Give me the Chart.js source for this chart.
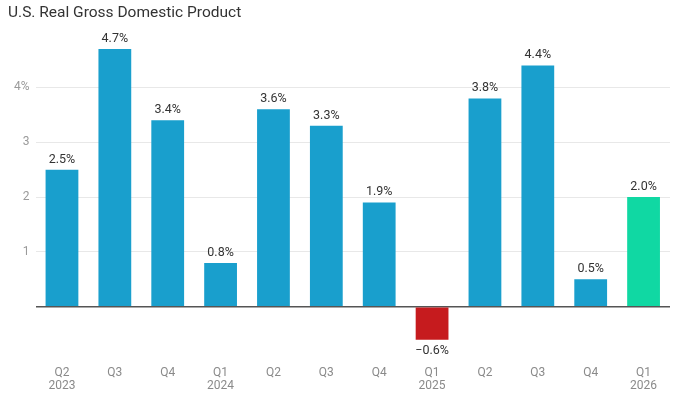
<!DOCTYPE html>
<html>
<head>
<meta charset="utf-8">
<script src="https://cdn.jsdelivr.net/npm/chart.js@4.4.0/dist/chart.umd.min.js"></script>
<style>
  html, body { margin: 0; padding: 0; background: #fff; }
  #wrap { width: 674px; height: 394px; position: relative; }
</style>
</head>
<body>
<div id="wrap"><canvas id="chart"></canvas></div>
<script>
// quarters and GDP growth (annualized, %)
const quarters = [["Q2", "2023"], "Q3", "Q4", ["Q1", "2024"], "Q2", "Q3", "Q4", ["Q1", "2025"], "Q2", "Q3", "Q4", ["Q1", "2026"]];
const growth = [2.5, 4.7, 3.4, 0.8, 3.6, 3.3, 1.9, -0.6, 3.8, 4.4, 0.5, 2.0];
const yTicks = [1, 2, 3, 4];

const BLUE = "#199fcd";
const RED = "#c61b1e";
const GREEN = "#10d8a3";
const barColors = growth.map((v, i) => {
  if (i === growth.length - 1) return GREEN;
  return v < 0 ? RED : BLUE;
});

// draws the "x.x%" labels on the bars
const valueLabels = {
  id: "valueLabels",
  afterDatasetsDraw(chart) {
    const ctx = chart.ctx;
    const meta = chart.getDatasetMeta(0);
    ctx.save();
    ctx.font = "12.5px Roboto, 'Liberation Sans', sans-serif";
    ctx.fillStyle = "#333";
    ctx.textAlign = "center";
    meta.data.forEach((bar, i) => {
      const v = growth[i];
      const txt = (v < 0 ? "\u2212" : "") + Math.abs(v).toFixed(1) + "%";
      if (v >= 0) {
        ctx.textBaseline = "bottom";
        ctx.fillText(txt, bar.x, bar.y - 4);
      } else {
        ctx.textBaseline = "top";
        ctx.fillText(txt, bar.x, bar.y + 5);
      }
    });
    ctx.restore();
  }
};

new Chart(document.getElementById("chart"), {
  type: "bar",
  data: {
    labels: quarters,
    datasets: [{
      data: growth,
      backgroundColor: barColors,
      barPercentage: 0.62,
      categoryPercentage: 1.0,
    }],
  },
  options: {
    responsive: true,
    maintainAspectRatio: false,
    animation: false,
    layout: { padding: { left: 8, right: 4, top: 0, bottom: -4 } },
    plugins: {
      legend: { display: false },
      tooltip: { enabled: false },
      title: {
        display: true,
        text: "U.S. Real Gross Domestic Product",
        align: "start",
        color: "#333",
        font: { size: 15.5, family: "Roboto, 'Liberation Sans', sans-serif", weight: "normal" },
        padding: { top: 4, bottom: 10 },
      },
    },
    scales: {
      x: {
        grid: { display: false, drawTicks: false },
        border: { display: false },
        ticks: {
          color: "#8a8a8a",
          font: { size: 12, family: "Roboto, 'Liberation Sans', sans-serif", lineHeight: 1.1 },
          padding: 5,
          maxRotation: 0,
        },
      },
      y: {
        min: -1,
        max: 5,
        border: { display: false },
        grid: {
          drawTicks: false,
          color: (c) => c.tick && c.tick.value === 0 ? "#555" : (yTicks.includes(c.tick && c.tick.value) ? "#e8e8e8" : "rgba(0,0,0,0)"),
          lineWidth: (c) => c.tick && c.tick.value === 0 ? 1.5 : 1,
        },
        ticks: {
          stepSize: 1,
          color: "#9a9a9a",
          font: { size: 12, family: "Roboto, 'Liberation Sans', sans-serif" },
          padding: 6,
          callback: (v) => yTicks.includes(v) ? (v === 4 ? v + "%" : String(v)) : "",
        },
      },
    },
  },
  plugins: [valueLabels],
});
</script>
</body>
</html>
